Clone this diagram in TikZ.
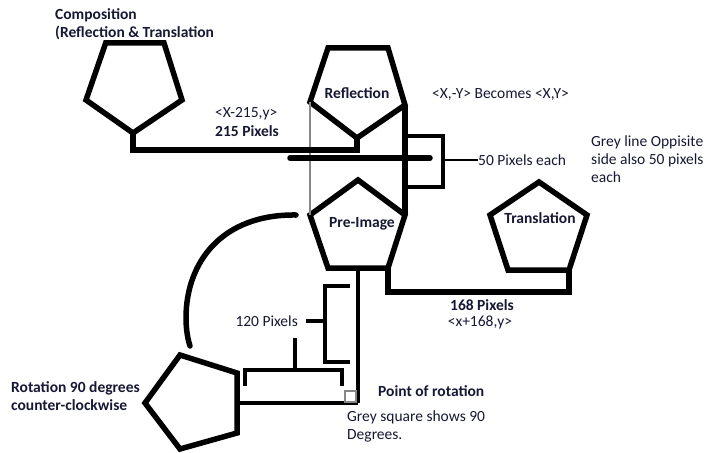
\documentclass[tikz,border=0pt]{standalone}
\usepackage{fontspec}
\setmainfont{Carlito}
\definecolor{txt}{RGB}{22,24,52}
\definecolor{greyline}{RGB}{135,135,135}
\tikzset{
  shp/.style={line width=5.5pt, line join=miter, miter limit=3},
  conn/.style={line width=5.5pt, line join=miter},
  brk/.style={line width=3.5pt, line join=miter},
  thin/.style={line width=2pt},
  lbl/.style={inner sep=0pt, text=txt, font=\fontsize{15.5}{18}\selectfont, align=left},
  blbl/.style={lbl, font=\fontsize{15.5}{18}\selectfont\bfseries},
}
\begin{document}
\begin{tikzpicture}[x=1pt,y=-1pt]
\useasboundingbox (0,0) rectangle (706,452);
% key coordinates
\coordinate (compB) at (133,133);
\coordinate (reflB) at (357,138);
\coordinate (reflL) at (310,102);
\coordinate (reflR) at (405,105);
\coordinate (preL) at (310,215);
\coordinate (preR) at (405,215);
\coordinate (preBL) at (358,268);
\coordinate (preBR) at (388,268);
\coordinate (trBR) at (569,270);
\coordinate (rotR) at (237,403);
\coordinate (pivot) at (358,403);

% Composition pentagon
\draw[shp] (105.7,43) -- (164,43) -- (182,100) -- (compB) -- (86,100) -- cycle;
% Reflection pentagon
\draw[shp] (328,48) -- (388,48) -- (reflR) -- (reflB) -- (reflL) -- cycle;
% Pre-image pentagon
\draw[shp] (358,180) -- (preR) -- (388,268) -- (328,268) -- (preL) -- cycle;
% side lines
\draw[greyline, line width=2.6pt] (reflL) -- (preL);
\draw[line width=5.5pt] (reflR) -- (preR);
% Translation pentagon
\draw[shp] (539,182) -- (587,215) -- (trBR) -- (508,270) -- (490,215) -- cycle;
% Rotation pentagon
\draw[shp] (180,355) -- (237,373) -- (237,433) -- (180,449) -- (145,403) -- cycle;

% composition connector
\draw[conn] (compB) -- (133,150) -- (357,150) -- (reflB);
% mirror line
\coordinate (mirL) at (290,158);
\coordinate (mirR) at (430,158);
\draw[line width=5.5pt, line cap=round] (mirL) -- (mirR);
% 50 px bracket
\draw[brk] (406,136) -- (443,136) -- (443,187) -- (406,187);
\draw[thin] (443,160) -- (478,160);
% translation connector
\draw[conn] (preBR) -- (388,292) -- (569,292) -- (trBR);
% rotation arc
\draw[line width=5.5pt, line cap=round] (296,215) .. controls (222,214) and (186,262) .. (186,318) .. controls (186,330) and (188,340) .. (190,346);
% rotation connector
\draw[line width=4pt] (rotR) -- (pivot);
\draw[line width=4pt] (preBL) -- (pivot);
% 120 px bracket
\draw[brk] (350,286) -- (325,286) -- (325,362) -- (350,362);
\draw[brk] (325,321) -- (306,321);
% horizontal bracket
\draw[brk] (245,386) -- (245,370) -- (342,370) -- (342,386);
\draw[brk] (295,370) -- (295,338);
% grey square
\draw[greyline, line width=2.6pt] (345,391) rectangle (356,402);

% labels
\node[blbl, anchor=west] (comp) at (55,24) {Composition\\(Reflection \& Translation};
\node[lbl, anchor=west] (t215a) at (215,114) {\textless X-215,y\textgreater};
\node[blbl, anchor=west] (t215b) at (215,131) {215 Pixels};
\node[blbl] (refl) at (357,93) {Reflection};
\node[lbl, anchor=west] (becomes) at (432,95) {\textless X,-Y\textgreater{} Becomes \textless X,Y\textgreater};
\node[lbl, anchor=west] (fifty) at (478,160) {50 Pixels each};
\node[lbl, anchor=west] (grey) at (591,159) {Grey line Oppisite\\side also 50 pixels\\each};
\node[blbl] (trans) at (540,218) {Translation};
\node[blbl] (pre) at (362,224) {Pre-Image};
\node[blbl] (t168a) at (482,305) {168 Pixels};
\node[lbl] (t168b) at (480,322) {\textless x+168,y\textgreater};
\node[lbl, anchor=east] (t120) at (298,321) {120 Pixels};
\node[blbl, anchor=west] (rot) at (11,396) {Rotation 90 degrees\\counter-clockwise};
\node[blbl, anchor=west] (point) at (378,391) {Point of rotation};
\node[lbl, anchor=west] (gsq) at (347,426) {Grey square shows 90\\Degrees.};
\end{tikzpicture}
\end{document}
